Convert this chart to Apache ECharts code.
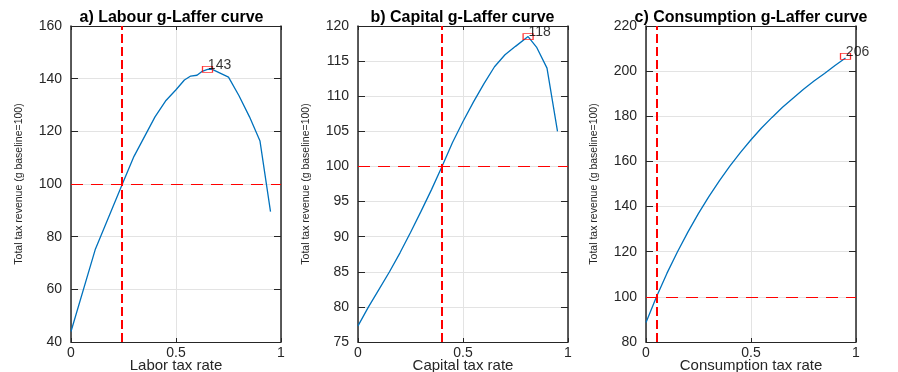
<!DOCTYPE html>
<html>
<head>
<meta charset="utf-8">
<script src="https://cdn.jsdelivr.net/npm/echarts@6/dist/echarts.min.js"></script>
<style>
html,body{margin:0;padding:0;background:#fff;overflow:hidden;}
#chart{width:898px;height:372px;}
</style>
</head>
<body>
<div id="chart"></div>
<script>
// ---- Data ----
const titles = ['a) Labour g-Laffer curve', 'b) Capital g-Laffer curve', 'c) Consumption g-Laffer curve'];
const xNames = ['Labor tax rate', 'Capital tax rate', 'Consumption tax rate'];
const yName = 'Total tax revenue (g baseline=100)';

const labourRate = [0, 0.115, 0.25, 0.3, 0.4, 0.45, 0.5, 0.54, 0.57, 0.6, 0.625, 0.65, 0.67, 0.75, 0.8, 0.85, 0.9, 0.95];
const labourRev  = [44, 75, 101, 110.5, 125.5, 131.5, 135.8, 139.5, 141, 141.3, 142.8, 143.5, 143.6, 140.6, 133.5, 125.5, 116.3, 89.5];

const capitalRate = [0, 0.05, 0.1, 0.15, 0.2, 0.25, 0.3, 0.35, 0.4, 0.45, 0.5, 0.55, 0.6, 0.65, 0.7, 0.75, 0.81, 0.85, 0.9, 0.95];
const capitalRev  = [77.3, 80, 82.5, 85, 87.7, 90.6, 93.6, 96.7, 100, 103.4, 106.4, 109.2, 111.8, 114.2, 115.9, 117.1, 118.5, 117, 114, 105];

const consRate = [0, 0.05, 0.1, 0.15, 0.2, 0.25, 0.3, 0.35, 0.4, 0.45, 0.5, 0.55, 0.6, 0.65, 0.7, 0.75, 0.8, 0.85, 0.9, 0.95];
const consRev  = [88.6, 100, 110.5, 120, 128.8, 137, 144.5, 151.5, 158, 164, 169.6, 174.8, 179.5, 184, 188, 192, 195.6, 199, 202.5, 205.8];

const peaks = [[0.65, 143.5], [0.81, 118.5], [0.95, 206.5]];
const peakLabels = ['143', '118', '206'];
const baselineRates = [0.245, 0.4, 0.05];
const baselineRevenue = 100;

const yMins = [40, 75, 80];
const yMaxs = [160, 120, 220];
const yIntervals = [20, 5, 20];
const xTicks = [0, 0.5, 1];

// ---- Layout ----
const lefts = [71, 358, 646];
const titleCenters = [171.5, 462.5, 751];
const plotTop = 26, plotW = 210, plotH = 316;
const axisCol = '#262626';
const font = 'Liberation Sans, Arial, Helvetica, sans-serif';

const series = [[labourRate, labourRev], [capitalRate, capitalRev], [consRate, consRev]];

const option = {
  animation: false,
  backgroundColor: '#fff',
  title: [], grid: [], xAxis: [], yAxis: [], series: []
};

for (let i = 0; i < 3; i++) {
  option.grid.push({left: lefts[i], top: plotTop, width: plotW, height: plotH,
    containLabel: false, outerBoundsMode: 'none'});
  option.title.push({
    text: titles[i], left: titleCenters[i], top: 10, textAlign: 'center', padding: 0,
    textStyle: {fontFamily: font, fontWeight: 'bold', fontSize: 16, color: '#000'}
  });
  // bottom x axis
  option.xAxis.push({
    type: 'value', gridIndex: i, position: 'bottom', min: xTicks[0], max: xTicks[2], interval: 0.5,
    name: xNames[i], nameLocation: 'middle', nameGap: 16, nameMoveOverlap: false,
    nameTextStyle: {fontFamily: font, fontSize: 15, color: axisCol, verticalAlign: 'top'},
    axisLine: {show: true, onZero: false, lineStyle: {color: axisCol, width: 1}},
    axisTick: {show: true, inside: true, length: 4, lineStyle: {color: axisCol}},
    axisLabel: {fontFamily: font, fontSize: 14, color: axisCol, margin: 4},
    splitLine: {show: true, lineStyle: {color: '#e3e3e3', width: 1}}
  });
  // top x axis (box)
  option.xAxis.push({
    type: 'value', gridIndex: i, position: 'top', min: xTicks[0], max: xTicks[2], interval: 0.5,
    axisLine: {show: true, onZero: false, lineStyle: {color: axisCol, width: 1}},
    axisTick: {show: true, inside: true, length: 4, lineStyle: {color: axisCol}},
    axisLabel: {show: false}, splitLine: {show: false}
  });
  // left y axis
  option.yAxis.push({
    type: 'value', gridIndex: i, position: 'left', min: yMins[i], max: yMaxs[i], interval: yIntervals[i],
    name: yName, nameLocation: 'middle', nameGap: 46, nameRotate: 90,
    nameTextStyle: {fontFamily: font, fontSize: 10.5, color: axisCol},
    axisLine: {show: true, onZero: false, lineStyle: {color: axisCol, width: 1.5}},
    axisTick: {show: true, inside: true, length: 7, lineStyle: {color: axisCol}},
    axisLabel: {fontFamily: font, fontSize: 14, color: axisCol, margin: 9},
    splitLine: {show: true, lineStyle: {color: '#e3e3e3', width: 1}}
  });
  // right y axis (box)
  option.yAxis.push({
    type: 'value', gridIndex: i, position: 'right', min: yMins[i], max: yMaxs[i], interval: yIntervals[i],
    axisLine: {show: true, onZero: false, lineStyle: {color: axisCol, width: 1.5}},
    axisTick: {show: true, inside: true, length: 7, lineStyle: {color: axisCol}},
    axisLabel: {show: false}, splitLine: {show: false}
  });

  const [xs, ys] = series[i];
  option.series.push({
    type: 'line', xAxisIndex: 2 * i, yAxisIndex: 2 * i,
    data: xs.map((x, k) => [x, ys[k]]),
    showSymbol: false, smooth: false, silent: true, z: 3,
    lineStyle: {color: '#0072BD', width: 1.3},
    markLine: {
      silent: true, symbol: 'none', label: {show: false}, animation: false,
      data: [
        {xAxis: baselineRates[i], lineStyle: {color: '#ff0000', type: [9, 4], width: 2}},
        {yAxis: baselineRevenue, lineStyle: {color: '#ff0000', type: [12, 8], width: 1.2}}
      ]
    }
  });
  option.series.push({
    type: 'scatter', xAxisIndex: 2 * i, yAxisIndex: 2 * i, z: 5, silent: true,
    data: [peaks[i]],
    symbol: 'rect', symbolSize: [10, 6],
    itemStyle: {color: 'rgba(0,0,0,0)', borderColor: '#ff0000', borderWidth: 1},
    label: {
      show: true, formatter: () => peakLabels[i], position: [6, -1],
      align: 'left', verticalAlign: 'middle',
      fontFamily: font, fontSize: 14, color: '#000'
    }
  });
}

const chart = echarts.init(document.getElementById('chart'), null, {renderer: 'canvas'});
chart.setOption(option);
</script>
</body>
</html>
